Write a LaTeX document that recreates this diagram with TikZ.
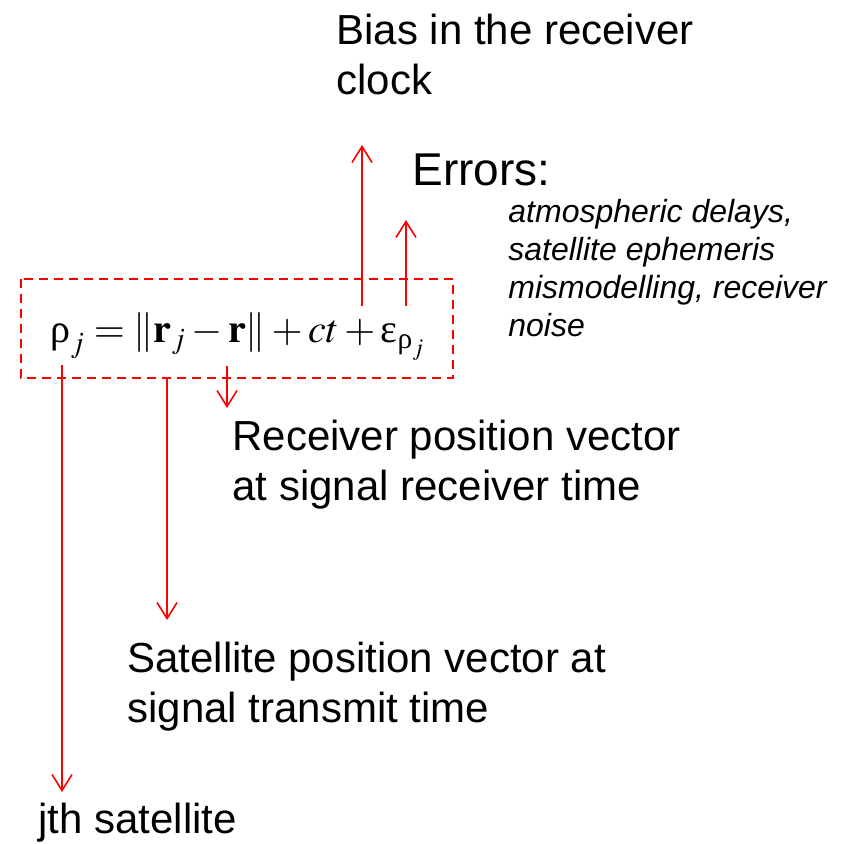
\documentclass[tikz,border=0pt]{standalone}
\usepackage{amsmath}
\usepackage{mathptmx}
\usepackage[no-math]{fontspec}
\setmainfont{Liberation Sans}
\newfontfamily\grk{Liberation Serif}
\newcommand{\urho}{\text{\grk ρ}}
\newcommand{\ueps}{\text{\grk ε}}
\usetikzlibrary{arrows.meta}

\begin{document}
\begin{tikzpicture}[x=0.5pt,y=-0.5pt,
  lbl/.style={anchor=base west,align=left,inner sep=0pt,font=\fontsize{21}{25}\selectfont},
  arr/.style={red,line width=0.8pt,-{Straight Barb[length=8pt,width=10pt]}}]
  \useasboundingbox (0,0) rectangle (844,843);
  % pseudorange equation
  \node[anchor=base,inner sep=0pt,font=\fontsize{20}{24}\selectfont] (eq) at (238,342)
    {$\urho_j=\|\mathbf{r}_j-\mathbf{r}\|+ct+\ueps_{\urho_j}$};
  \draw[red,line width=1pt,dash pattern=on 4.5pt off 3pt] (21,279) rectangle (453,378);
  % labels (base = last line)
  \node[lbl] (bias) at (336,94) {Bias in the receiver\\clock};
  \node[lbl,font=\fontsize{23}{27}\selectfont] (errors) at (412,185) {Errors:};
  \node[lbl,font=\fontsize{16}{19}\selectfont\itshape] (errlist) at (508,336)
    {atmospheric delays,\\satellite ephemeris\\mismodelling, receiver\\noise};
  \node[lbl] (recv) at (232,500) {Receiver position vector\\at signal receiver time};
  \node[lbl] (sat) at (127,722) {Satellite position vector at\\signal transmit time};
  \node[lbl] (jth) at (38,833) {jth satellite};
  % arrow ends
  \coordinate (ct) at (362,306);     \coordinate (ctend) at (362,145);
  \coordinate (eps) at (406,306);    \coordinate (epsend) at (406,220);
  \coordinate (r) at (227,366);      \coordinate (rend) at (227,408);
  \coordinate (rj) at (167,378);     \coordinate (rjend) at (167,620);
  \coordinate (rho) at (62,365);     \coordinate (rhoend) at (62,792);
  \draw[arr] (ct) -- (ctend);
  \draw[arr] (eps) -- (epsend);
  \draw[arr] (r) -- (rend);
  \draw[arr] (rj) -- (rjend);
  \draw[arr] (rho) -- (rhoend);
\end{tikzpicture}
\end{document}
